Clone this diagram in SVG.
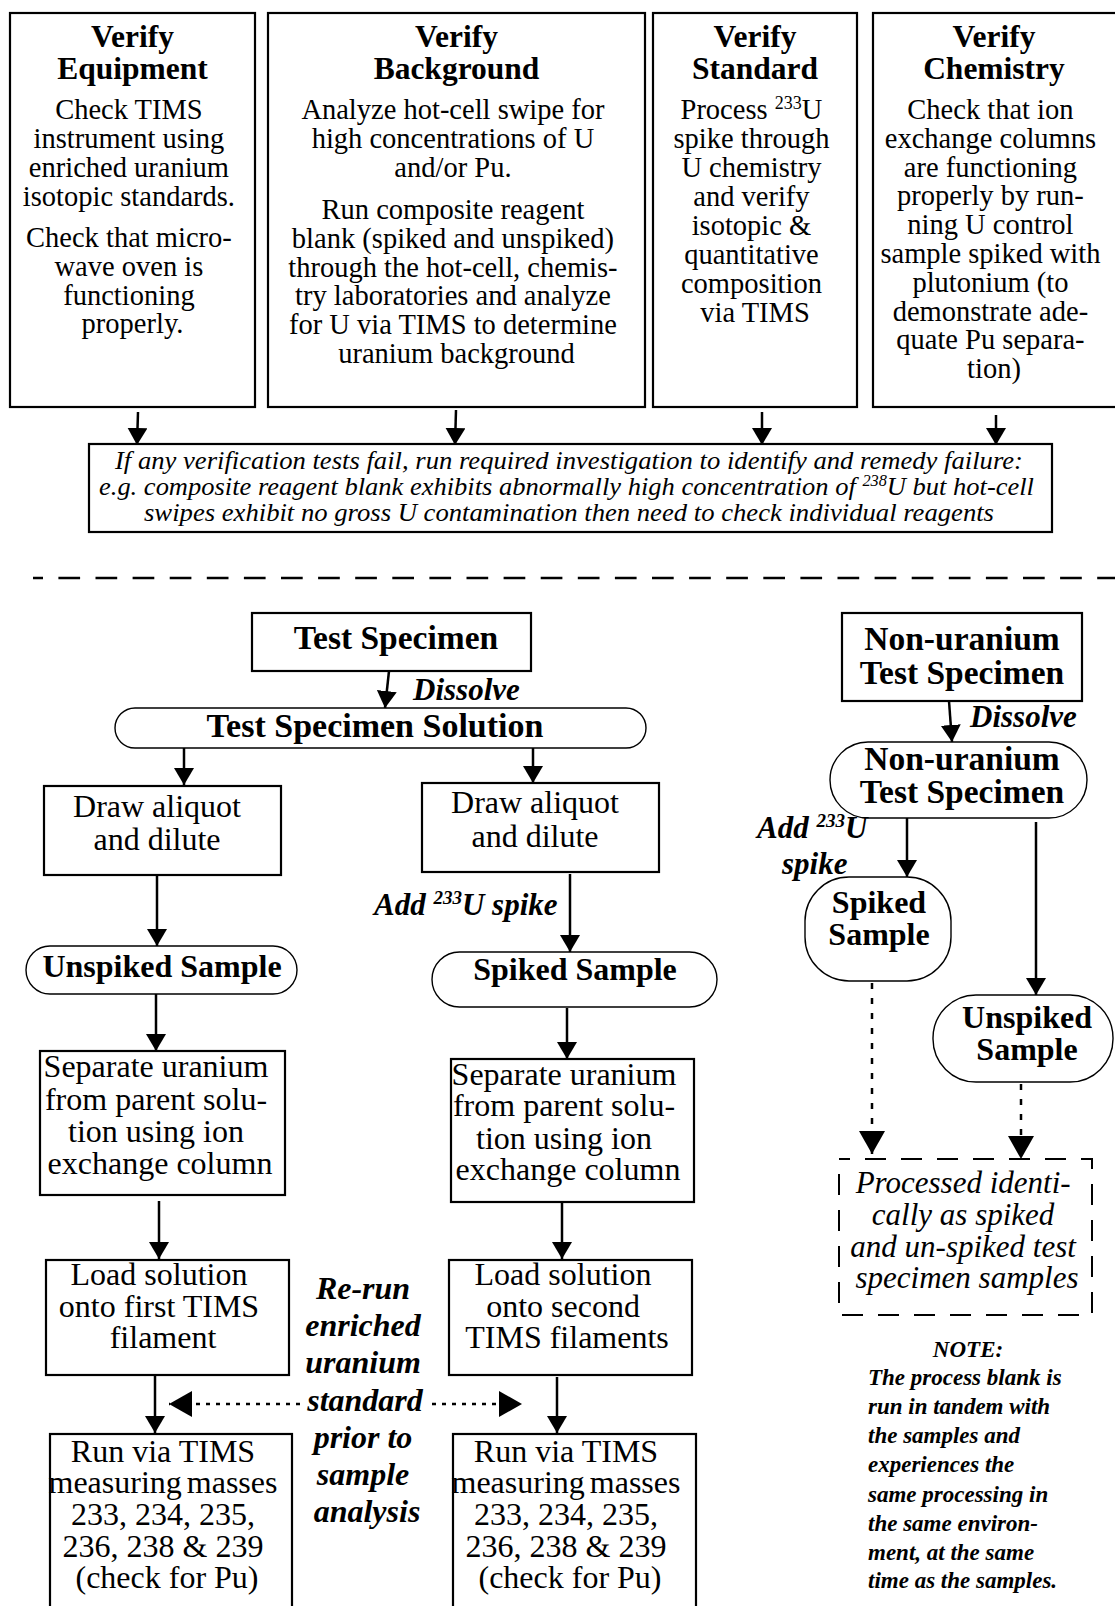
<svg xmlns="http://www.w3.org/2000/svg" width="1115" height="1606" viewBox="0 0 1115 1606">
  <style>
    text { font-family: "Liberation Serif", "Times New Roman", serif; fill: #000; }
    .box { fill: #fff; stroke: #000; stroke-width: 2.2; }
    .pill { fill: #fff; stroke: #000; stroke-width: 1.4; }
    .dbox { fill: none; stroke: #000; stroke-width: 2; stroke-dasharray: 21 15; stroke-dashoffset: 10; }
    .title { font-size: 31.5px; font-weight: bold; text-anchor: middle; }
    .body { font-size: 28.5px; text-anchor: middle; }
    .big { font-size: 32px; text-anchor: middle; }
    .bigb { font-size: 32px; font-weight: bold; text-anchor: middle; }
    .hdr { font-size: 33.5px; font-weight: bold; text-anchor: middle; }
    .lbl { font-size: 31px; font-weight: bold; font-style: italic; }
    .lblc { font-size: 32px; font-weight: bold; font-style: italic; text-anchor: middle; }
    .ital { font-size: 26px; font-style: italic; text-anchor: middle; }
    .itbig { font-size: 31px; font-style: italic; text-anchor: middle; }
    .note { font-size: 23px; font-weight: bold; font-style: italic; }
    .conn { stroke: #000; stroke-width: 2.5; fill: none; }
    .dotv { stroke-dasharray: 6 9; }
    .doth { stroke-dasharray: 4 6; stroke-width: 2.3; }
  </style>
  <defs>
    <marker id="ah" markerUnits="userSpaceOnUse" viewBox="0 0 18 20" markerWidth="18" markerHeight="20" refX="17" refY="10" orient="auto">
      <path d="M0,0 L17,10 L0,20 Z" fill="#000" stroke="none"/>
    </marker>
    <marker id="ahBig" markerUnits="userSpaceOnUse" viewBox="0 0 24 26" markerWidth="24" markerHeight="26" refX="23" refY="13" orient="auto">
      <path d="M0,0 L23,13 L0,26 Z" fill="#000" stroke="none"/>
    </marker>
  </defs>

  <rect width="1115" height="1606" fill="#fff"/>

  <!-- verification boxes -->
  <g id="verify-equipment">
    <rect class="box" x="10" y="13" width="245" height="394"/>
    <text class="title"><tspan x="132.5" y="47">Verify</tspan><tspan x="132.5" y="79">Equipment</tspan></text>
    <text class="body">
      <tspan x="132.5" y="119">Check TIMS</tspan>
      <tspan x="132.5" y="148">instrument using</tspan>
      <tspan x="132.5" y="177">enriched uranium</tspan>
      <tspan x="132.5" y="206">isotopic standards.</tspan>
      <tspan x="132.5" y="247">Check that micro-</tspan>
      <tspan x="132.5" y="276">wave oven is</tspan>
      <tspan x="132.5" y="305">functioning</tspan>
      <tspan x="132.5" y="333">properly.</tspan>
    </text>
  </g>

  <g id="verify-background">
    <rect class="box" x="268" y="13" width="377" height="394"/>
    <text class="title"><tspan x="456.5" y="47">Verify</tspan><tspan x="456.5" y="79">Background</tspan></text>
    <text class="body">
      <tspan x="456.5" y="119">Analyze hot-cell swipe for</tspan>
      <tspan x="456.5" y="148">high concentrations of U</tspan>
      <tspan x="456.5" y="177">and/or Pu.</tspan>
      <tspan x="456.5" y="219">Run composite reagent</tspan>
      <tspan x="456.5" y="248">blank (spiked and unspiked)</tspan>
      <tspan x="456.5" y="277">through the hot-cell, chemis-</tspan>
      <tspan x="456.5" y="305">try laboratories and analyze</tspan>
      <tspan x="456.5" y="334">for U via TIMS to determine</tspan>
      <tspan x="456.5" y="363">uranium background</tspan>
    </text>
  </g>

  <g id="verify-standard">
    <rect class="box" x="653" y="13" width="204" height="394"/>
    <text class="title"><tspan x="755" y="47">Verify</tspan><tspan x="755" y="79">Standard</tspan></text>
    <text class="body">
      <tspan x="755" y="119">Process <tspan font-size="18" dy="-10">233</tspan><tspan dy="10">U</tspan></tspan>
      <tspan x="755" y="148">spike through</tspan>
      <tspan x="755" y="177">U chemistry</tspan>
      <tspan x="755" y="206">and verify</tspan>
      <tspan x="755" y="235">isotopic &amp;</tspan>
      <tspan x="755" y="264">quantitative</tspan>
      <tspan x="755" y="293">composition</tspan>
      <tspan x="755" y="322">via TIMS</tspan>
    </text>
  </g>

  <g id="verify-chemistry">
    <rect class="box" x="873" y="13" width="245" height="394"/>
    <text class="title"><tspan x="994" y="47">Verify</tspan><tspan x="994" y="79">Chemistry</tspan></text>
    <text class="body">
      <tspan x="994" y="119">Check that ion</tspan>
      <tspan x="994" y="148">exchange columns</tspan>
      <tspan x="994" y="177">are functioning</tspan>
      <tspan x="994" y="205">properly by run-</tspan>
      <tspan x="994" y="234">ning U control</tspan>
      <tspan x="994" y="263">sample spiked with</tspan>
      <tspan x="994" y="292">plutonium (to</tspan>
      <tspan x="994" y="321">demonstrate ade-</tspan>
      <tspan x="994" y="349">quate Pu separa-</tspan>
      <tspan x="994" y="378">tion)</tspan>
    </text>
  </g>

  <g id="failure-investigation">
    <rect class="box" x="89" y="444" width="963" height="88"/>
    <text class="ital" x="569" y="469" textLength="908" lengthAdjust="spacingAndGlyphs">If any verification tests fail, run required investigation to identify and remedy failure:</text>
    <text class="ital" x="566.5" y="495" textLength="935" lengthAdjust="spacingAndGlyphs">e.g. composite reagent blank exhibits abnormally high concentration of <tspan font-size="16" dy="-9">238</tspan><tspan dy="9">U but hot-cell</tspan></text>
    <text class="ital" x="569" y="521" textLength="850" lengthAdjust="spacingAndGlyphs">swipes exhibit no gross U contamination then need to check individual reagents</text>
  </g>

  <!-- section divider -->
  <line x1="33" y1="578" x2="1115" y2="578" stroke="#000" stroke-width="2.7" stroke-dasharray="21.7 15.4" stroke-dashoffset="11.7"/>

  <!-- test specimen branch -->
  <g id="test-specimen">
    <rect class="box" x="252" y="613" width="279" height="58"/>
    <text class="hdr" x="396" y="649">Test Specimen</text>
  </g>

  <g id="test-specimen-solution">
    <rect class="pill" x="115" y="708" width="531" height="40" rx="20"/>
    <text class="hdr" x="375" y="737" style="font-size:34px">Test Specimen Solution</text>
  </g>

  <g id="draw-aliquot-1">
    <rect class="box" x="44" y="786" width="237" height="89"/>
    <text class="big"><tspan x="157" y="817">Draw aliquot</tspan><tspan x="157" y="850">and dilute</tspan></text>
  </g>

  <g id="draw-aliquot-2">
    <rect class="box" x="422" y="783" width="237" height="89"/>
    <text class="big"><tspan x="535" y="813">Draw aliquot</tspan><tspan x="535" y="847">and dilute</tspan></text>
  </g>

  <g id="unspiked-sample">
    <rect class="pill" x="26" y="946" width="271" height="48" rx="24"/>
    <text class="bigb" x="162" y="977">Unspiked Sample</text>
  </g>

  <g id="spiked-sample">
    <rect class="pill" x="432" y="952" width="285" height="55" rx="27.5"/>
    <text class="bigb" x="575" y="980">Spiked Sample</text>
  </g>

  <g id="separate-1">
    <rect class="box" x="40" y="1051" width="245" height="144"/>
    <text class="big">
      <tspan x="160" y="1077">Separate uranium</tspan>
      <tspan x="160" y="1110">from parent solu-</tspan>
      <tspan x="160" y="1142">tion using ion</tspan>
      <tspan x="160" y="1174">exchange column</tspan>
    </text>
  </g>

  <g id="separate-2">
    <rect class="box" x="451" y="1059" width="243" height="143"/>
    <text class="big">
      <tspan x="568" y="1085">Separate uranium</tspan>
      <tspan x="568" y="1116">from parent solu-</tspan>
      <tspan x="568" y="1149">tion using ion</tspan>
      <tspan x="568" y="1180">exchange column</tspan>
    </text>
  </g>

  <g id="load-1">
    <rect class="box" x="46" y="1260" width="243" height="115"/>
    <text class="big">
      <tspan x="163" y="1285">Load solution</tspan>
      <tspan x="163" y="1317">onto first TIMS</tspan>
      <tspan x="163" y="1348">filament</tspan>
    </text>
  </g>

  <g id="load-2">
    <rect class="box" x="449" y="1260" width="243" height="115"/>
    <text class="big">
      <tspan x="567" y="1285">Load solution</tspan>
      <tspan x="567" y="1317">onto second</tspan>
      <tspan x="567" y="1348">TIMS filaments</tspan>
    </text>
  </g>

  <g id="run-1">
    <rect class="box" x="50" y="1434" width="242" height="190"/>
    <text class="big">
      <tspan x="167" y="1462">Run via TIMS</tspan>
      <tspan x="167" y="1493" word-spacing="-3">measuring masses</tspan>
      <tspan x="167" y="1525">233, 234, 235,</tspan>
      <tspan x="167" y="1557">236, 238 &amp; 239</tspan>
      <tspan x="167" y="1588">(check for Pu)</tspan>
    </text>
  </g>

  <g id="run-2">
    <rect class="box" x="453" y="1434" width="243" height="190"/>
    <text class="big">
      <tspan x="570" y="1462">Run via TIMS</tspan>
      <tspan x="570" y="1493" word-spacing="-3">measuring masses</tspan>
      <tspan x="570" y="1525">233, 234, 235,</tspan>
      <tspan x="570" y="1557">236, 238 &amp; 239</tspan>
      <tspan x="570" y="1588">(check for Pu)</tspan>
    </text>
  </g>

  <g id="rerun-standard">
    <text class="lblc">
      <tspan x="367" y="1299">Re-run</tspan>
      <tspan x="367" y="1336">enriched</tspan>
      <tspan x="367" y="1373">uranium</tspan>
      <tspan x="369" y="1411">standard</tspan>
      <tspan x="367" y="1448">prior to</tspan>
      <tspan x="367" y="1485">sample</tspan>
      <tspan x="367" y="1522">analysis</tspan>
    </text>
  </g>

  <!-- non-uranium branch -->
  <g id="non-uranium-specimen">
    <rect class="box" x="842" y="613" width="240" height="88"/>
    <text class="hdr"><tspan x="962" y="650">Non-uranium</tspan><tspan x="962" y="684">Test Specimen</tspan></text>
  </g>

  <g id="non-uranium-solution">
    <rect class="pill" x="830" y="742" width="257" height="76" rx="38"/>
    <text class="hdr"><tspan x="962" y="770">Non-uranium</tspan><tspan x="962" y="803">Test Specimen</tspan></text>
  </g>

  <g id="non-uranium-spiked">
    <rect class="pill" x="805" y="877" width="146" height="104" rx="44"/>
    <text class="bigb"><tspan x="879" y="913">Spiked</tspan><tspan x="879" y="945">Sample</tspan></text>
  </g>

  <g id="non-uranium-unspiked">
    <rect class="pill" x="933" y="995" width="180" height="87" rx="43"/>
    <text class="bigb"><tspan x="1027" y="1028">Unspiked</tspan><tspan x="1027" y="1060">Sample</tspan></text>
  </g>

  <g id="processed-identically">
    <rect class="dbox" x="839" y="1159" width="253" height="156"/>
    <text class="itbig">
      <tspan x="967" y="1193">Processed identi-</tspan>
      <tspan x="967" y="1225">cally as spiked</tspan>
      <tspan x="967" y="1257">and un-spiked test</tspan>
      <tspan x="967" y="1288">specimen samples</tspan>
    </text>
  </g>

  <g id="note">
    <text class="note" x="968" y="1357" text-anchor="middle">NOTE:</text>
    <text class="note">
      <tspan x="868" y="1385">The process blank is</tspan>
      <tspan x="868" y="1414">run in tandem with</tspan>
      <tspan x="868" y="1443">the samples and</tspan>
      <tspan x="868" y="1472">experiences the</tspan>
      <tspan x="868" y="1502">same processing in</tspan>
      <tspan x="868" y="1531">the same environ-</tspan>
      <tspan x="868" y="1560">ment, at the same</tspan>
      <tspan x="868" y="1588">time as the samples.</tspan>
    </text>
  </g>

  <!-- connector labels -->
  <g id="labels">
    <text class="lbl" x="413" y="700">Dissolve</text>
    <text class="lbl" x="374" y="915">Add <tspan font-size="19" dy="-11">233</tspan><tspan dy="11">U spike</tspan></text>
    <text class="lbl" x="970" y="727">Dissolve</text>
    <text class="lbl" x="757" y="838">Add <tspan font-size="19" dy="-11">233</tspan><tspan dy="11">U</tspan></text>
    <text class="lbl" x="782" y="874">spike</text>
  </g>

  <!-- connectors -->
  <g id="connectors">
    <line class="conn" x1="138" y1="412" x2="137" y2="445" marker-end="url(#ah)"/>
    <line class="conn" x1="456" y1="410" x2="455" y2="445" marker-end="url(#ah)"/>
    <line class="conn" x1="762" y1="412" x2="762" y2="445" marker-end="url(#ah)"/>
    <line class="conn" x1="996" y1="415" x2="996" y2="445" marker-end="url(#ah)"/>

    <line class="conn" x1="389" y1="671" x2="385" y2="708" marker-end="url(#ah)"/>
    <line class="conn" x1="184" y1="748" x2="184" y2="785" marker-end="url(#ah)"/>
    <line class="conn" x1="533" y1="748" x2="533" y2="783" marker-end="url(#ah)"/>
    <line class="conn" x1="157" y1="875" x2="157" y2="946" marker-end="url(#ah)"/>
    <line class="conn" x1="570" y1="874" x2="570" y2="952" marker-end="url(#ah)"/>
    <line class="conn" x1="156" y1="994" x2="156" y2="1051" marker-end="url(#ah)"/>
    <line class="conn" x1="567" y1="1008" x2="567" y2="1059" marker-end="url(#ah)"/>
    <line class="conn" x1="159" y1="1201" x2="159" y2="1259" marker-end="url(#ah)"/>
    <line class="conn" x1="562" y1="1202" x2="562" y2="1259" marker-end="url(#ah)"/>
    <line class="conn" x1="155" y1="1376" x2="155" y2="1433" marker-end="url(#ah)"/>
    <line class="conn" x1="557" y1="1377" x2="557" y2="1433" marker-end="url(#ah)"/>

    <line class="conn" x1="949" y1="701" x2="952" y2="742" marker-end="url(#ah)"/>
    <line class="conn" x1="907" y1="818" x2="907" y2="877" marker-end="url(#ah)"/>
    <line class="conn" x1="1036" y1="822" x2="1036" y2="995" marker-end="url(#ah)"/>

    <line class="conn dotv" x1="872" y1="983" x2="872" y2="1154" marker-end="url(#ahBig)"/>
    <line class="conn dotv" x1="1021" y1="1084" x2="1021" y2="1159" marker-end="url(#ahBig)"/>

    <line class="conn doth" x1="300" y1="1404" x2="169" y2="1404" marker-end="url(#ahBig)"/>
    <line class="conn doth" x1="432" y1="1404" x2="522" y2="1404" marker-end="url(#ahBig)"/>
  </g>
</svg>
